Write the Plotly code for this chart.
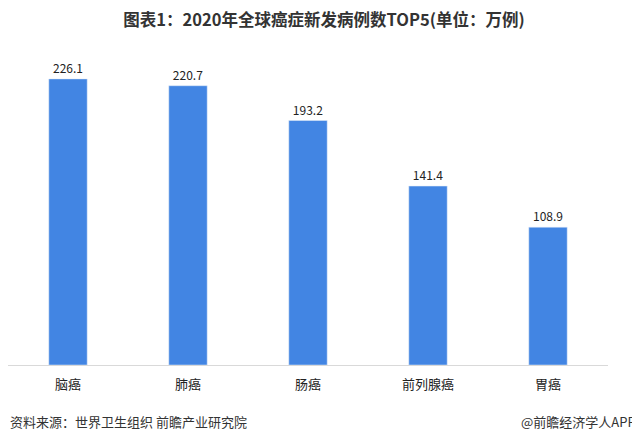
import plotly.graph_objects as go

categories = ["脑癌", "肺癌", "肠癌", "前列腺癌", "胃癌"]
cases = [226.1, 220.7, 193.2, 141.4, 108.9]

FONT = "Noto Sans CJK SC"

fig = go.Figure(
    data=[
        go.Bar(
            x=categories,
            y=cases,
            marker_color="#4285e3",
            text=[f"{v:.1f}" for v in cases],
            textposition="outside",
            textfont=dict(size=12, color="#222222"),
            cliponaxis=False,
        )
    ]
)

# page body has an 8px margin, so the figure is sized to what is left of the window
fig.update_layout(
    width=632,
    height=437,
    title=dict(
        text="<b>图表1：2020年全球癌症新发病例数TOP5(单位：万例)</b>",
        x=0.5,
        xanchor="center",
        y=0.972,
        yanchor="middle",
        font=dict(size=16.5, color="#333333", family=FONT),
    ),
    bargap=0.68,
    showlegend=False,
    margin=dict(l=0, r=32, t=28, b=80),
    paper_bgcolor="white",
    plot_bgcolor="white",
    font=dict(family=FONT, size=13, color="#222222"),
    xaxis=dict(
        showline=True,
        linecolor="#d9d9d9",
        linewidth=1,
        ticks="",
        ticklabelstandoff=7,
        tickfont=dict(size=13, color="#222222"),
    ),
    yaxis=dict(
        range=[0, 260],
        visible=False,
        showgrid=False,
        zeroline=False,
    ),
)

fig.add_annotation(
    text="资料来源：世界卫生组织 前瞻产业研究院",
    xref="paper", yref="paper",
    x=0, y=-0.173,
    xanchor="left", yanchor="middle",
    showarrow=False,
    font=dict(size=13, color="#333333", family=FONT),
)
fig.add_annotation(
    text="@前瞻经济学人APP",
    xref="paper", yref="paper",
    x=1.05, y=-0.173,
    xanchor="right", yanchor="middle",
    showarrow=False,
    font=dict(size=13, color="#333333", family=FONT),
)

fig.write_html("out.html")
